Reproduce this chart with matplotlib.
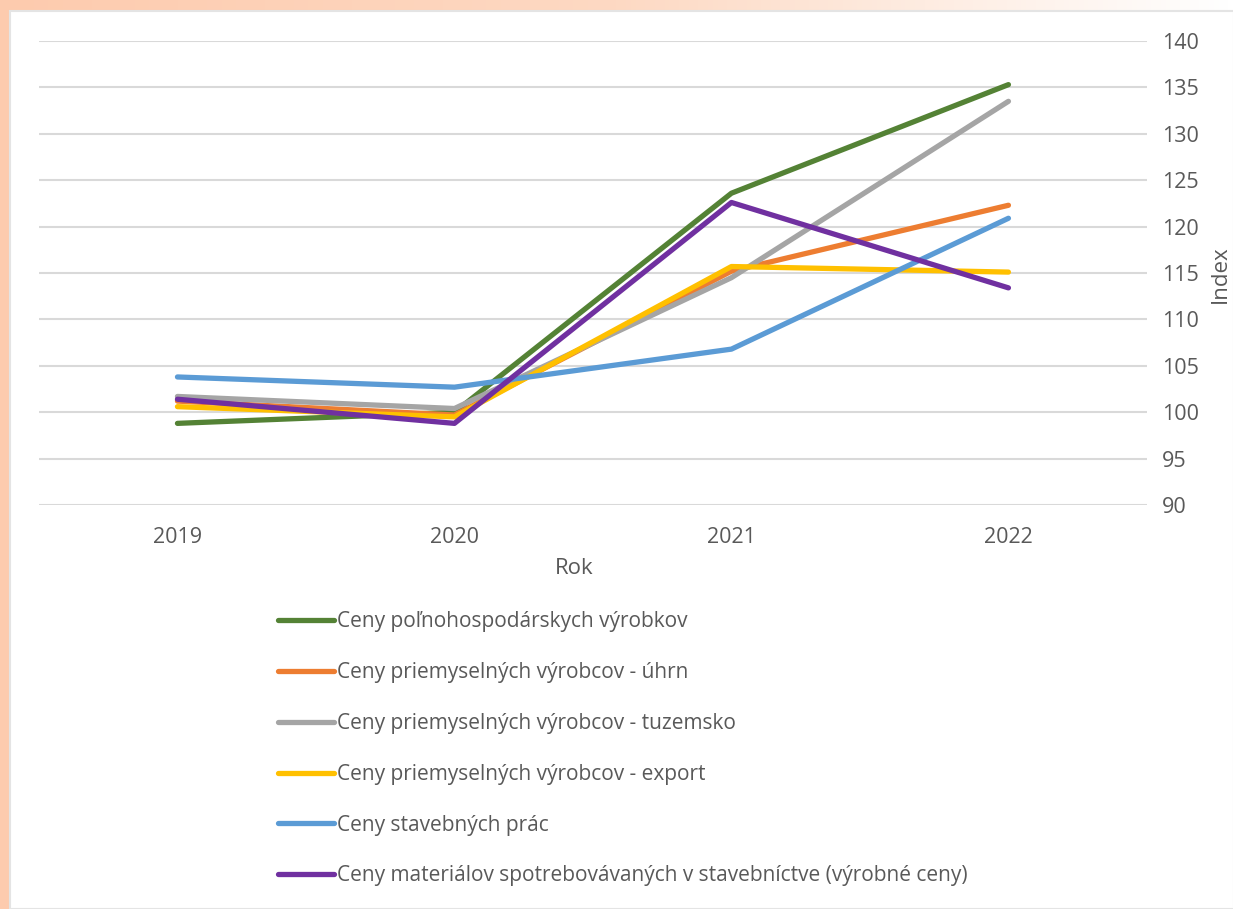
import matplotlib.pyplot as plt
import numpy as np
from matplotlib.patches import Rectangle
from matplotlib.colors import LinearSegmentedColormap

# Data
years = ['2019', '2020', '2021', '2022']
polnohosp = [98.8, 100.0, 123.6, 135.3]
priem_uhrn = [101.2, 99.7, 115.2, 122.3]
priem_tuzemsko = [101.7, 100.4, 114.5, 133.5]
priem_export = [100.6, 99.5, 115.7, 115.1]
stavebne_prace = [103.8, 102.7, 106.8, 120.9]
materialy = [101.4, 98.8, 122.6, 113.4]

labels = [
    'Ceny poľnohospodárskych výrobkov',
    'Ceny priemyselných výrobcov - úhrn',
    'Ceny priemyselných výrobcov - tuzemsko',
    'Ceny priemyselných výrobcov - export',
    'Ceny stavebných prác',
    'Ceny materiálov spotrebovávaných v stavebníctve (výrobné ceny)',
]
series = [polnohosp, priem_uhrn, priem_tuzemsko, priem_export, stavebne_prace, materialy]
colors = ['#548235', '#ED7D31', '#A5A5A5', '#FFC000', '#5B9BD5', '#7030A0']
yticks = list(range(90, 141, 5))

plt.rcParams['font.family'] = ['Open Sans', 'DejaVu Sans']
text_col = '#595959'

fig = plt.figure(figsize=(12.33, 9.09), dpi=100)
fig.patch.set_facecolor('white')

# Peach background frame (left and top edge of the slide)
bg = fig.add_axes([0, 0, 1, 1], zorder=-10)
bg.axis('off')
grad = np.linspace(0, 1, 256)[None, :]
cmap = LinearSegmentedColormap.from_list('peach', ['#FDCBAE', '#FDD9C3', '#FFFFFF'])
bg.imshow(grad, cmap=cmap, extent=[0, 1, 0.988, 1], aspect='auto', transform=bg.transAxes)
bg.add_patch(Rectangle((0, 0), 0.0085, 1, transform=bg.transAxes, color='#FDCBAE'))
bg.add_patch(Rectangle((0.0085, 0), 0.992, 0.988, transform=bg.transAxes,
                       facecolor='white', edgecolor='#E4E4E4', linewidth=1.5))
bg.set_xlim(0, 1)
bg.set_ylim(0, 1)

ax = fig.add_axes([0.0316, 0.4444, 0.8986, 0.5105])
x = np.arange(len(years))
for vals, col, lab in zip(series, colors, labels):
    ax.plot(x, vals, color=col, lw=3.8, solid_capstyle='round', solid_joinstyle='round', label=lab)

ax.set_xlim(-0.5, 3.5)
ax.set_ylim(90, 140)
ax.set_xticks(x)
ax.set_xticklabels(years)
ax.set_yticks(yticks)
ax.yaxis.tick_right()
ax.tick_params(length=0, labelsize=15.5, labelcolor=text_col)
ax.tick_params(axis='y', pad=11)
ax.tick_params(axis='x', pad=16)
ax.grid(axis='y', color='#D9D9D9', lw=1.5)
ax.set_axisbelow(True)
for s in ax.spines.values():
    s.set_visible(False)
ax.patch.set_alpha(0)

fig.text(0.4655, 0.375, 'Rok', ha='center', va='center', fontsize=16, color=text_col)
fig.text(0.9895, 0.698, 'Index', ha='center', va='center', rotation=90, fontsize=16, color=text_col)

handles, labs = ax.get_legend_handles_labels()
leg = fig.legend(handles, labs, loc='upper left', bbox_to_anchor=(0.219, 0.3365),
                 frameon=False, fontsize=15, labelcolor=text_col,
                 handlelength=2.65, handletextpad=0.15, labelspacing=1.43, borderaxespad=0)

fig.savefig('out.png', dpi=100)
